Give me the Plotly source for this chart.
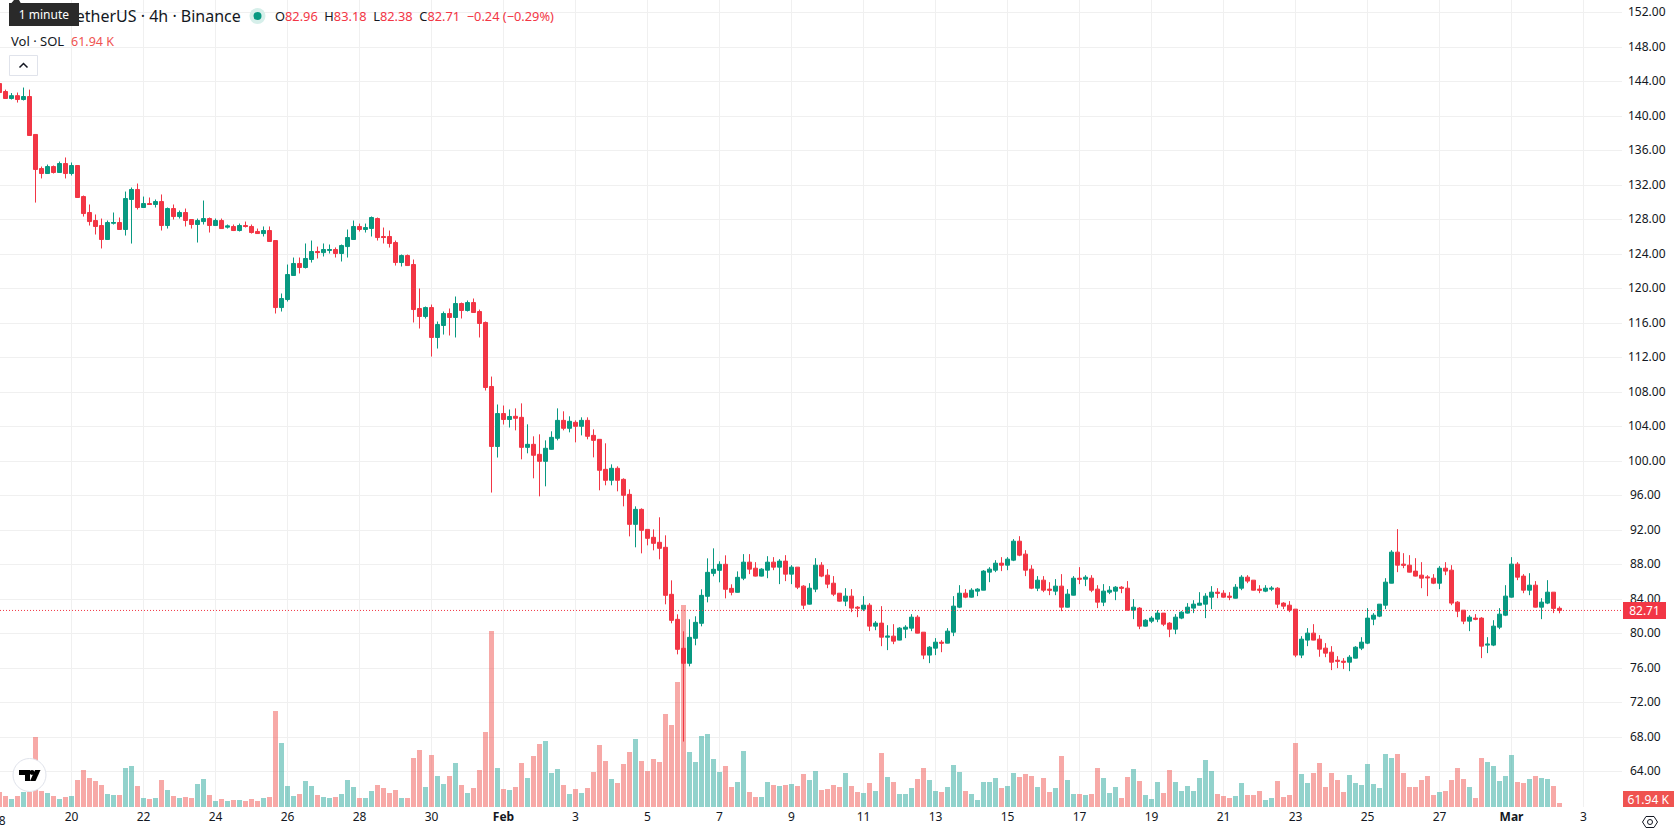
import pandas as pd
import plotly.graph_objects as go

# SOL / USDT, 4h candles
START = "2026-01-18 00:00"
opens = [
    143.8,142.88,142.07,142.4,141.95,142.3,137.9,133.95,133.37,134.18,
    133.49,134.53,133.37,134.3,130.7,128.85,127.92,127.34,125.72,127.6,
    127.69,126.88,130.36,131.52,129.43,129.89,129.78,130.12,127.34,129.31,
    128.38,128.85,128.04,127.46,127.8,128.15,127.34,127.92,127.15,127.23,
    126.76,127.34,127.23,126.65,126.41,126.76,125.6,117.83,118.76,121.55,
    122.94,122.47,123.4,124.33,124.2,124.45,124.56,124.1,124.9,125.72,
    127.23,126.88,127.0,128.15,126.07,126.07,125.37,123.05,123.86,122.82,
    117.72,116.79,117.83,114.36,115.75,117.14,116.68,118.3,117.49,118.41,
    117.37,116.1,108.68,101.72,105.54,104.85,105.22,105.1,101.62,101.97,
    100.81,100.0,101.39,102.67,104.75,103.83,104.52,104.06,104.75,103.01,
    102.55,99.07,97.8,99.19,97.91,96.17,92.69,94.43,92.11,91.19,
    90.61,90.03,84.58,81.68,78.32,76.58,79.48,81.22,84.35,87.01,
    87.36,88.06,85.27,84.81,86.45,88.31,87.61,86.69,87.38,88.31,
    87.73,88.43,86.92,87.73,85.53,83.44,85.18,87.96,86.8,85.87,
    84.71,83.79,84.37,83.09,82.86,83.32,80.89,81.24,79.61,79.73,
    79.27,80.54,80.66,81.93,80.19,77.53,78.34,79.03,78.92,80.19,
    83.09,84.71,84.25,84.95,85.06,87.15,87.38,88.19,87.96,88.54,
    90.74,89.24,87.5,85.29,86.22,85.18,84.95,85.53,83.09,84.48,
    86.45,86.34,86.45,85.18,83.67,84.83,84.95,85.41,85.29,82.74,
    82.98,80.89,81.47,81.7,82.4,81.24,80.54,81.82,82.4,82.98,
    83.32,83.44,84.25,84.83,84.71,84.37,84.13,85.29,86.57,86.22,
    85.18,84.95,85.18,85.29,83.56,83.32,82.86,77.53,79.27,80.08,
    79.38,78.34,77.87,76.94,76.83,76.71,77.18,78.34,78.92,81.7,
    82.05,83.32,85.87,89.47,88.08,87.96,87.27,86.8,86.6,86.45,
    85.87,87.61,87.38,83.67,82.74,81.47,81.82,81.82,78.69,78.69,
    80.77,82.16,84.25,88.08,86.69,85.06,85.64,83.09,83.56,84.83,
    82.96,
]
closes = [
    142.76,142.07,142.4,141.95,142.3,137.78,133.84,133.37,134.18,133.49,
    134.53,133.37,134.3,130.59,128.73,127.8,127.23,125.72,127.69,127.69,
    126.88,130.47,131.52,129.43,129.89,129.78,130.12,127.34,129.31,128.38,
    128.85,127.92,127.46,127.92,128.15,127.34,127.92,126.99,127.3,126.76,
    127.34,127.23,126.53,126.41,126.76,125.49,117.83,118.88,121.66,122.94,
    122.47,123.52,124.33,124.2,124.56,124.56,124.1,125.02,125.95,127.23,
    126.88,127.11,128.27,125.95,125.95,125.26,123.05,123.86,122.7,117.6,
    116.79,117.83,114.36,115.86,117.14,116.68,118.3,117.49,118.41,117.26,
    115.98,108.56,101.72,105.54,104.85,105.2,104.99,101.62,101.97,100.7,
    100.0,101.51,102.78,104.75,103.83,104.64,104.06,104.75,102.9,102.43,
    98.96,97.8,99.19,97.8,96.06,92.69,94.43,92.0,91.07,90.49,
    89.91,84.46,81.56,78.2,76.58,79.59,81.33,84.46,87.13,87.48,
    88.06,85.16,84.81,86.55,88.31,87.5,86.69,87.5,88.31,87.73,
    88.43,86.92,87.73,85.41,83.32,85.29,87.96,86.69,85.76,84.6,
    83.79,84.37,82.98,82.98,83.32,80.89,81.24,79.61,79.73,79.15,
    80.66,80.77,81.93,80.08,77.53,78.45,79.03,78.92,80.31,83.21,
    84.71,84.25,85.06,85.18,87.27,87.5,88.19,87.96,88.66,90.74,
    89.12,87.38,85.29,86.22,85.06,85.06,85.53,83.09,84.6,86.45,
    86.34,86.57,85.06,83.67,84.95,85.06,85.41,85.29,82.74,83.09,
    80.89,81.58,81.82,82.4,81.12,80.54,81.93,82.51,83.09,83.44,
    83.56,84.37,84.83,84.71,84.25,84.25,85.41,86.57,86.11,85.06,
    85.06,85.29,85.29,83.44,83.21,82.74,77.53,79.38,80.08,79.27,
    78.22,77.76,76.71,76.83,76.71,77.29,78.45,79.03,81.82,82.16,
    83.44,85.99,89.47,87.96,87.96,87.15,86.69,86.45,86.5,85.87,
    87.61,87.27,83.56,82.63,81.47,81.93,81.7,78.57,78.8,80.89,
    82.28,84.37,88.08,86.57,85.06,85.64,83.09,83.67,84.83,82.95,
    82.71,
]
highs = [
    144.0,143.1,142.7,142.76,143.34,143.1,137.9,134.18,134.41,134.3,
    134.76,135.23,134.65,134.3,130.82,129.78,128.62,128.15,127.92,128.85,
    128.27,131.28,131.75,132.21,130.7,130.59,130.36,130.94,129.43,129.78,
    129.08,129.31,128.04,128.15,130.24,128.27,128.15,128.15,127.46,127.46,
    127.57,127.8,127.46,126.99,127.23,127.23,125.6,119.46,122.82,123.63,
    123.63,125.26,125.6,124.9,125.26,125.14,124.8,125.14,126.88,127.92,
    127.57,127.57,128.39,128.27,127.11,126.76,125.6,123.98,123.98,123.4,
    120.04,117.95,118.18,116.21,117.37,117.72,119.11,118.41,118.65,118.88,
    117.6,116.21,109.83,106.59,106.47,106.01,106.14,106.72,104.29,102.9,
    103.13,102.43,103.48,106.14,105.8,105.22,104.75,105.1,105.1,103.71,
    102.55,102.09,99.65,99.42,98.03,96.75,94.78,94.55,92.11,92.11,
    93.51,91.42,86.2,82.26,80.29,81.68,82.03,85.16,88.75,89.91,
    88.41,89.1,85.74,87.24,89.24,89.24,88.31,87.61,89.0,88.89,
    88.66,89.12,87.96,87.73,85.64,85.87,88.77,88.31,87.5,86.69,
    84.71,85.29,85.18,83.21,84.37,83.56,81.47,83.21,81.0,81.12,
    80.77,81.0,82.28,82.16,80.19,78.57,79.5,79.27,80.66,84.37,
    85.64,85.18,85.29,85.29,87.38,87.73,88.54,88.89,88.89,90.98,
    91.32,89.7,87.96,86.69,86.69,85.99,86.34,86.92,85.18,86.69,
    87.73,86.8,86.8,85.64,85.76,85.53,85.53,85.53,86.11,84.02,
    83.09,81.7,82.05,82.74,82.4,81.35,82.28,82.63,83.56,83.9,
    84.83,84.71,85.53,85.29,85.06,84.83,85.76,86.8,86.8,86.22,
    85.64,85.64,85.53,85.41,83.67,83.79,82.86,79.73,80.66,81.12,
    79.85,78.92,78.57,77.41,77.18,77.53,78.57,79.61,82.98,82.4,
    83.44,86.45,89.7,92.14,89.35,89.12,88.77,88.31,86.8,86.92,
    87.85,88.31,87.96,83.79,82.74,82.16,82.28,81.93,79.61,81.58,
    82.98,85.64,88.89,88.31,86.92,87.03,86.11,84.13,86.22,84.83,
    83.18,
]
lows = [
    142.7,142.05,141.95,141.6,141.84,137.75,130.0,132.8,133.35,133.37,
    133.45,132.8,133.14,130.55,128.38,127.34,126.3,124.68,125.7,127.46,
    126.85,126.18,125.25,129.2,129.4,129.75,129.43,126.76,126.99,128.04,
    128.15,127.23,126.99,125.37,127.46,126.53,127.3,126.95,126.99,126.7,
    126.65,127.11,126.41,126.4,126.07,125.45,117.14,117.37,118.53,121.5,
    121.78,122.36,123.05,123.52,123.75,124.1,123.63,123.17,123.63,125.7,
    126.65,126.53,126.07,125.6,125.26,124.79,122.7,122.59,122.65,116.1,
    115.4,116.56,112.15,113.08,114.7,114.59,114.36,116.56,117.37,117.2,
    114.36,108.21,96.38,100.44,104.27,103.92,103.59,100.23,100.93,98.03,
    95.94,97.1,101.35,102.43,103.59,103.36,102.2,103.01,102.55,100.46,
    96.64,97.22,97.22,96.52,94.78,91.3,90.03,89.33,90.26,89.68,
    88.64,83.42,81.22,77.62,67.51,76.23,78.67,80.87,83.65,86.67,
    85.97,84.11,84.46,84.78,86.22,86.92,86.65,86.65,86.45,87.38,
    85.76,86.11,85.76,85.18,82.86,83.4,84.83,86.57,85.29,84.37,
    83.75,83.21,82.51,81.93,82.63,80.31,80.42,78.57,78.11,78.8,
    79.25,79.5,80.31,80.05,77.06,76.6,77.53,77.87,78.9,79.73,
    82.98,84.13,84.2,84.37,85.05,85.99,87.15,87.27,87.38,88.43,
    89.0,86.69,85.18,84.95,84.83,84.48,84.48,82.63,83.05,84.45,
    85.76,85.53,84.83,82.98,83.21,84.6,83.9,84.71,82.7,81.7,
    80.54,80.85,81.24,81.35,80.89,79.61,79.96,81.7,82.35,82.4,
    83.3,81.82,82.86,84.13,84.2,83.9,84.1,85.06,85.87,85.03,
    84.71,84.83,84.95,82.98,82.86,82.51,77.29,77.18,78.57,79.25,
    77.34,77.29,75.79,76.02,75.91,75.67,77.15,78.11,78.8,81.0,
    81.93,82.86,85.85,87.15,87.61,87.12,86.65,85.29,84.37,85.76,
    85.18,86.8,83.32,81.93,81.12,80.31,81.58,77.18,77.76,78.57,
    80.54,82.05,84.2,86.22,84.71,84.48,83.05,81.7,83.44,82.4,
    82.38,
]
# Volume in thousands of SOL
volumes = [
    232,170,124,170,232,232,1084,248,217,170,
    124,155,170,418,573,449,403,341,201,186,
    186,604,635,325,139,124,139,418,263,170,
    139,155,139,356,434,186,93,124,93,108,
    108,93,124,93,139,155,1487,991,325,170,
    201,403,325,186,155,139,155,201,418,310,
    139,139,248,341,294,217,263,139,139,759,
    883,310,805,480,356,480,681,341,217,294,
    573,1162,2726,604,279,263,310,681,449,790,
    976,1022,527,589,341,201,279,217,294,542,
    960,712,434,372,666,852,1053,712,558,743,
    697,1440,1270,1936,3131,852,697,1100,1131,743,
    542,635,310,387,867,232,155,155,387,341,
    325,341,356,325,511,418,558,263,279,341,
    310,527,325,232,217,372,248,836,465,387,
    201,201,294,434,604,418,248,232,310,651,
    542,248,201,108,387,387,449,294,325,527,
    465,511,480,310,449,232,294,790,418,201,
    201,186,201,604,449,217,310,139,465,589,
    403,186,124,387,217,573,387,248,325,248,
    449,728,558,201,170,139,170,372,186,186,
    248,108,139,403,155,186,991,511,372,527,
    681,310,527,418,232,496,372,341,666,356,
    294,821,759,821,527,310,310,418,480,186,
    232,248,418,604,434,310,139,759,697,635,
    403,480,805,387,372,434,480,449,434,325,
    61.94,
]
assert len(opens) == len(closes) == len(highs) == len(lows) == len(volumes)

time_ticks = ["2026-01-20","2026-01-22","2026-01-24","2026-01-26","2026-01-28","2026-01-30",
              "2026-02-01","2026-02-03","2026-02-05","2026-02-07","2026-02-09","2026-02-11",
              "2026-02-13","2026-02-15","2026-02-17","2026-02-19","2026-02-21","2026-02-23",
              "2026-02-25","2026-02-27","2026-03-01","2026-03-03"]
time_labels = ["20","22","24","26","28","30","<b>Feb</b>","3","5","7","9","11","13","15",
               "17","19","21","23","25","27","<b>Mar</b>","3"]
price_ticks = list(range(64, 156, 4))
# Two-digit prices get a leading thin space so they sit centred under the three-digit ones
price_labels = [f"{v:.2f}" if v >= 100 else f"\u2009{v:.2f}" for v in price_ticks]

WIDTH, HEIGHT = 1678, 835
PLOT_W, PLOT_H = 1622, 807
UP, DOWN = "#089981", "#F23645"
VOL_UP, VOL_DOWN = "rgba(38,166,154,0.5)", "rgba(239,83,80,0.5)"
INK = "#131722"
FONT = "Noto Sans"


def px(x, y):
    """Screen pixel to paper coordinates."""
    return x / PLOT_W, 1 - y / PLOT_H


def path(points, close=True):
    cmds = []
    for i, (x, y) in enumerate(points):
        u, v = px(x, y)
        cmds.append(f"{'M' if i == 0 else 'L'}{u:.5f},{v:.5f}")
    return " ".join(cmds) + (" Z" if close else "")


def circle(cx, cy, r, fill, line="rgba(0,0,0,0)", lw=0):
    x0, y0 = px(cx - r, cy + r)
    x1, y1 = px(cx + r, cy - r)
    return dict(type="circle", xref="paper", yref="paper", x0=x0, y0=y0, x1=x1, y1=y1,
                fillcolor=fill, line=dict(color=line, width=lw))


def label(x, y, text, size=13, color=INK, anchor="left", **kw):
    u, v = px(x, y)
    return dict(xref="paper", yref="paper", x=u, y=v, text=text, showarrow=False,
                xanchor=anchor, yanchor="middle", align=anchor,
                font=dict(family=FONT, size=size, color=color), **kw)


times = pd.date_range(START, periods=len(closes), freq="4h")
vol_colors = [VOL_UP if c >= o else VOL_DOWN for o, c in zip(opens, closes)]

fig = go.Figure()
fig.add_trace(go.Bar(x=times, y=volumes, marker=dict(color=vol_colors, line=dict(width=0)),
                     width=4 * 3600 * 1000 * 5 / 6, yaxis="y", hoverinfo="skip"))
fig.add_trace(go.Candlestick(
    x=times, open=opens, high=highs, low=lows, close=closes, yaxis="y2",
    increasing=dict(line=dict(color=UP, width=1), fillcolor=UP),
    decreasing=dict(line=dict(color=DOWN, width=1), fillcolor=DOWN),
    whiskerwidth=0,
))

last_open, last_high, last_low, last_close = opens[-1], highs[-1], lows[-1], closes[-1]
prev_close = closes[-2]
change = last_close - prev_close
change_pct = change / prev_close * 100


def red(s):
    return f'<span style="color:{DOWN}">{s}</span>'


ohlc_text = (f"O{red(f'{last_open:.2f}')} &nbsp;H{red(f'{last_high:.2f}')} &nbsp;"
             f"L{red(f'{last_low:.2f}')} &nbsp;C{red(f'{last_close:.2f}')} &nbsp;"
             + red(f"−{abs(change):.2f} (−{abs(change_pct):.2f}%)"))

annotations = [
    label(243, 16, "TetherUS · 4h · Binance", size=16, anchor="right"),
    label(273, 16, ohlc_text, size=12.8),
    label(8.5, 41, "Vol · SOL", size=13),
    label(69, 41, f"{volumes[-1]:.2f} K", size=12.5, color="#EF5350"),
    label(-1, 821, "18", size=12, anchor="center"),
    # Dark tooltip sits over the start of the symbol title
    dict(xref="paper", yref="paper", x=8.6 / PLOT_W, y=1 - 15 / PLOT_H, text="1 minute",
         showarrow=False, xanchor="left", yanchor="middle", width=70, height=23,
         bgcolor="#2A2A2A", borderpad=0, borderwidth=0,
         font=dict(family=FONT, size=12, color="#FFFFFF")),
    dict(xref="paper", yref="y2", x=1623 / PLOT_W, y=last_close, text=f"{last_close:.2f}",
         showarrow=False, xanchor="left", yanchor="middle", width=43, height=17,
         bgcolor=DOWN, borderpad=0, borderwidth=0,
         font=dict(family=FONT, size=12, color="#FFFFFF")),
    dict(xref="paper", yref="paper", x=1623 / PLOT_W, y=0, text=f"{volumes[-1]:.2f} K",
         showarrow=False, xanchor="left", yanchor="bottom", width=51, height=16,
         bgcolor="#EF5350", borderpad=0, borderwidth=0,
         font=dict(family=FONT, size=12, color="#FFFFFF")),
]

x0, y0 = px(9.5, 75.5)
x1, y1 = px(37.5, 55.5)
shapes = [
    dict(type="line", xref="paper", yref="y2", x0=0, x1=1, y0=last_close, y1=last_close,
         line=dict(color=DOWN, width=1, dash="1px,2px")),
    # Status dot
    circle(257.5, 16, 8, "#D6EFEA"),
    circle(257.5, 16, 4, UP),
    # Collapse button
    dict(type="rect", xref="paper", yref="paper", x0=x0, y0=y0, x1=x1, y1=y1,
         fillcolor="#FFFFFF", line=dict(color="#E0E3EB", width=1)),
    dict(type="path", xref="paper", yref="paper", path=path([(19.5, 67.5), (23.5, 63.5), (27.5, 67.5)], close=False),
         line=dict(color=INK, width=1.5)),
    # Tooltip arrow
    dict(type="path", xref="paper", yref="paper", path=path([(11, 3.5), (14, 0), (19, 0), (21, 3.5)]),
         fillcolor="#2A2A2A", line=dict(width=0)),
    # Round badge in the lower corner
    circle(29.5, 775, 16.5, "#FFFFFF", "#E0E3EB", 1),
    dict(type="path", xref="paper", yref="paper",
         path=path([(19, 770), (30, 770), (30, 781), (25, 781), (25, 775), (19, 775)]),
         fillcolor="#000000", line=dict(width=0)),
    circle(32, 772.5, 2.4, "#000000"),
    dict(type="path", xref="paper", yref="paper",
         path=path([(35, 770), (40.5, 770), (35.5, 781), (30, 781)]),
         fillcolor="#000000", line=dict(width=0)),
    # Settings hexagon in the corner of the axes
    dict(type="path", xref="paper", yref="paper",
         path=path([(1642.5, 822), (1646, 816.5), (1654, 816.5), (1657.5, 822), (1654, 827.5), (1646, 827.5)]),
         line=dict(color=INK, width=1)),
    circle(1650, 822, 2.5, "rgba(0,0,0,0)", INK, 1),
]

fig.update_layout(
    width=WIDTH, height=HEIGHT, autosize=False,
    margin=dict(l=0, r=WIDTH - PLOT_W, t=0, b=HEIGHT - PLOT_H, pad=0),
    paper_bgcolor="#FFFFFF", plot_bgcolor="#FFFFFF",
    showlegend=False, boxgap=1 / 3, boxgroupgap=0, bargap=0,
    font=dict(family=FONT, size=12, color=INK),
    xaxis=dict(type="date", range=["2026-01-18 00:20", "2026-03-04 01:40"],
               tickmode="array", tickvals=time_ticks, ticktext=time_labels,
               showgrid=True, gridcolor="#F0F0F0", gridwidth=1, zeroline=False,
               showline=False, ticks="", rangeslider=dict(visible=False),
               tickangle=0, ticklabelstandoff=1, tickfont=dict(family=FONT, size=12, color=INK)),
    yaxis=dict(range=[0, 12500], visible=False, showgrid=False, zeroline=False),
    yaxis2=dict(overlaying="y", side="right", range=[59.92, 153.49],
                tickmode="array", tickvals=price_ticks, ticktext=price_labels,
                showgrid=True, gridcolor="#F0F0F0", gridwidth=1, zeroline=False,
                showline=False, ticks="", ticklabelstandoff=5, ticklabelshift=-1,
                tickfont=dict(family=FONT, size=12, color=INK)),
    annotations=annotations, shapes=shapes,
    hovermode=False, dragmode=False,
)

fig.write_html("out.html", config=dict(displayModeBar=False))
